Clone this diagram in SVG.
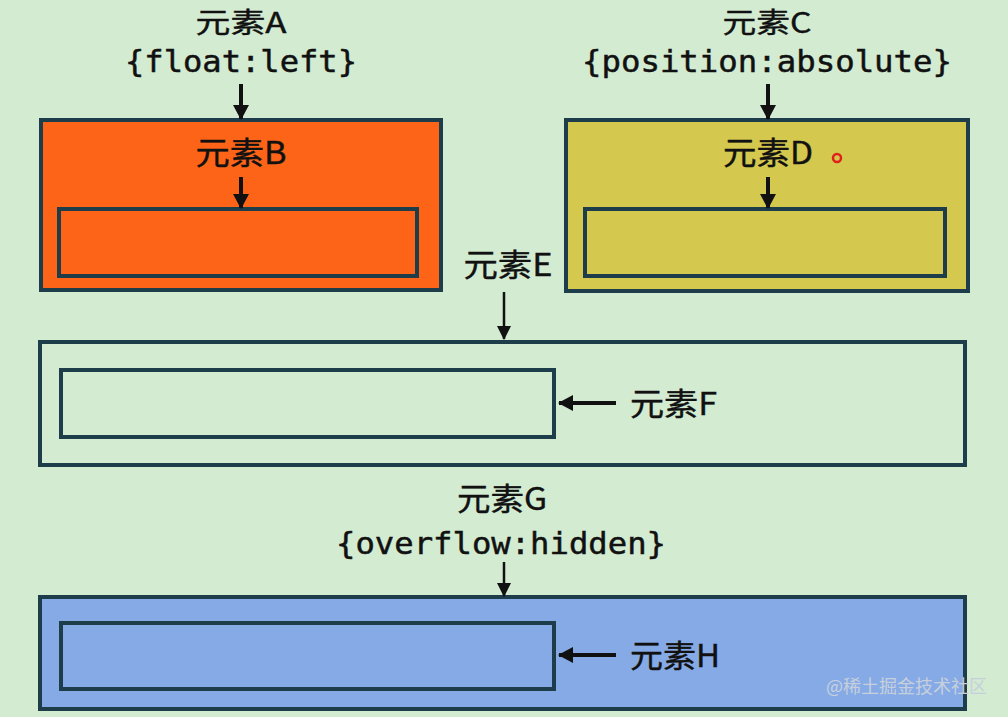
<svg xmlns="http://www.w3.org/2000/svg" width="1008" height="717" viewBox="0 0 1008 717">
<defs>
<marker id="ah" markerWidth="16" markerHeight="16" refX="14" refY="8" orient="auto" markerUnits="userSpaceOnUse">
<path d="M0,0 L15,8 L0,16 Z" fill="#111"/>
</marker>
<marker id="ahs" markerWidth="14" markerHeight="14" refX="13" refY="7" orient="auto" markerUnits="userSpaceOnUse">
<path d="M0,0 L14,7 L0,14 Z" fill="#111"/>
</marker>
<style>
.box{stroke:#1e3d4a;stroke-width:4}
.cjk{font-family:"Noto Sans CJK SC","Noto Sans",sans-serif;font-size:31px;fill:#111;stroke:#111;stroke-width:0.4}
.top{font-size:28px}
.mono{font-family:"DejaVu Sans Mono","Liberation Mono",monospace;font-size:31px;fill:#111;stroke:#111;stroke-width:0.5}
.conn{stroke:#111;stroke-width:4;fill:none;marker-end:url(#ah)}
.thin{stroke:#111;stroke-width:2.5;fill:none;marker-end:url(#ahs)}
.wm{font-family:"Noto Sans CJK SC",sans-serif;font-size:18px;fill:#c6d0dc}
</style>
</defs>
<rect x="0" y="0" width="1008" height="717" fill="#d3ebd1"/>

<g id="nodeA">
<text class="cjk top" x="241" y="33" text-anchor="middle" textLength="91" lengthAdjust="spacingAndGlyphs">元素A</text>
<text class="mono" x="241" y="72" text-anchor="middle" textLength="232" lengthAdjust="spacingAndGlyphs">{float:left}</text>
</g>
<g id="nodeB">
<rect class="box" x="41" y="120" width="400" height="170" fill="#fd6418"/>
<text class="cjk" x="241" y="164" text-anchor="middle" textLength="91" lengthAdjust="spacingAndGlyphs">元素B</text>
<rect class="box" x="59" y="209" width="358" height="67" fill="#fd6418"/>
</g>
<g id="nodeC">
<text class="cjk top" x="767" y="33" text-anchor="middle" textLength="89" lengthAdjust="spacingAndGlyphs">元素C</text>
<text class="mono" x="767" y="72" text-anchor="middle" textLength="370" lengthAdjust="spacingAndGlyphs">{position:absolute}</text>
</g>
<g id="nodeD">
<rect class="box" x="566" y="120" width="402" height="171" fill="#d4c84f"/>
<text class="cjk" x="768" y="164" text-anchor="middle" textLength="90" lengthAdjust="spacingAndGlyphs">元素D</text>
<rect class="box" x="585" y="209" width="360" height="67" fill="#d4c84f"/>
<circle cx="837" cy="158" r="4" fill="none" stroke="#e0201a" stroke-width="2.5"/>
</g>
<g id="nodeE">
<text class="cjk" x="508" y="276" text-anchor="middle" textLength="89" lengthAdjust="spacingAndGlyphs">元素E</text>
<rect class="box" x="40" y="342" width="925" height="123" fill="none"/>
</g>
<g id="nodeF">
<rect class="box" x="61" y="370" width="493" height="67" fill="none"/>
<text class="cjk" x="630" y="415" textLength="87" lengthAdjust="spacingAndGlyphs">元素F</text>
</g>
<g id="nodeG">
<text class="cjk" x="502" y="510" text-anchor="middle" textLength="90" lengthAdjust="spacingAndGlyphs">元素G</text>
<text class="mono" x="501" y="554" text-anchor="middle" textLength="330" lengthAdjust="spacingAndGlyphs">{overflow:hidden}</text>
<rect class="box" x="40" y="597" width="925" height="112" fill="#86aae6"/>
</g>
<g id="nodeH">
<rect class="box" x="61" y="623" width="493" height="66" fill="#86aae6"/>
<text class="cjk" x="630" y="667" textLength="90" lengthAdjust="spacingAndGlyphs">元素H</text>
</g>

<g id="connectors">
<line class="conn" x1="241" y1="84" x2="241" y2="119"/>
<line class="conn" x1="241" y1="177" x2="241" y2="208"/>
<line class="conn" x1="768" y1="84" x2="768" y2="119"/>
<line class="conn" x1="768" y1="177" x2="768" y2="208"/>
<line class="thin" x1="504" y1="292" x2="504" y2="339"/>
<line class="conn" x1="616" y1="403" x2="559" y2="403"/>
<line class="thin" x1="504" y1="562" x2="504" y2="596"/>
<line class="conn" x1="616" y1="655" x2="559" y2="655"/>
</g>

<text class="wm" x="826" y="693">@稀土掘金技术社区</text>
</svg>
